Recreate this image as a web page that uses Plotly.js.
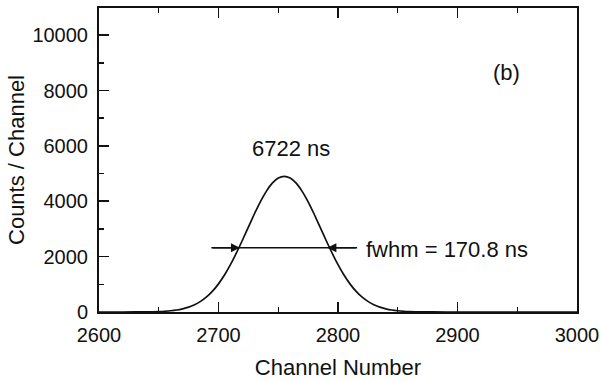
<!DOCTYPE html>
<html>
<head>
<meta charset="utf-8">
<script src="https://cdn.plot.ly/plotly-3.0.1.min.js"></script>
<style>html,body{margin:0;padding:0;background:#fff;}#chart{width:601px;height:381px;}</style>
</head>
<body>
<div id="chart"></div>
<script>
// Data
const channels = [2600, 2620, 2640, 2650, 2655, 2660, 2665, 2670, 2675, 2680, 2685, 2690, 2695, 2700, 2705, 2710, 2715, 2720, 2725, 2730, 2735, 2740, 2745, 2750, 2755, 2760, 2765, 2770, 2775, 2780, 2785, 2790, 2795, 2800, 2805, 2810, 2815, 2820, 2825, 2830, 2835, 2840, 2845, 2850, 2855, 2860, 2870, 2880, 2900, 2950, 3000];
const counts   = [0, 0, 5, 16, 27, 45, 72, 114, 175, 263, 383, 543, 752, 1016, 1335, 1709, 2132, 2591, 3068, 3540, 3980, 4357, 4652, 4837, 4900, 4837, 4652, 4357, 3980, 3540, 3068, 2591, 2132, 1709, 1335, 1016, 752, 543, 383, 263, 175, 114, 72, 45, 27, 16, 5, 1, 0, 0, 0];

const peakLabel = "6722 ns";
const peakLabelPos = [2761, 5920];
const fwhmLabel = "fwhm = 170.8 ns";
const fwhmLabelPos = [2822, 2250];
const panelLabel = "(b)";
const panelLabelPos = [2941, 8660];
const fwhmLevel = 2320;
const fwhmArrowLeft = [2694, 2718];   // tail, head
const fwhmArrowRight = [2816, 2791];  // tail, head

const xTicks = [2600, 2700, 2800, 2900, 3000];
const yTicks = [0, 2000, 4000, 6000, 8000, 10000];

const font = "Liberation Sans, Arial, Helvetica, sans-serif";
const ink = "#111";

const trace = {
  x: channels, y: counts, type: "scatter", mode: "lines",
  line: {color: ink, width: 1.7, shape: "spline", smoothing: 0.6},
  hoverinfo: "skip"
};

const layout = {
  width: 601, height: 381,
  margin: {l: 99, r: 24, t: 8, b: 69},
  paper_bgcolor: "#fff", plot_bgcolor: "#fff",
  showlegend: false,
  font: {family: font, color: ink, size: 20},
  xaxis: {
    range: [2600, 3000], tickvals: xTicks, ticktext: xTicks.map(String),
    ticks: "inside", ticklen: 10, tickwidth: 1.6, tickcolor: ink,
    minor: {dtick: 50, tick0: 2600, ticks: "inside", ticklen: 5, tickwidth: 1.4, tickcolor: ink, showgrid: false},
    showline: true, linewidth: 2, linecolor: ink, mirror: "allticks",
    showgrid: false, zeroline: false, ticklabelstandoff: 4,
    tickfont: {size: 20, family: font, color: ink},
    title: {text: "Channel Number", font: {size: 22, family: font, color: ink}, standoff: 15}
  },
  yaxis: {
    range: [0, 10980], tickvals: yTicks, ticktext: yTicks.map(String),
    ticks: "inside", ticklen: 10, tickwidth: 1.6, tickcolor: ink,
    minor: {dtick: 1000, tick0: 0, ticks: "inside", ticklen: 5, tickwidth: 1.4, tickcolor: ink, showgrid: false},
    showline: true, linewidth: 2, linecolor: ink, mirror: true,
    showgrid: false, zeroline: false, ticklabelstandoff: 5,
    tickfont: {size: 20, family: font, color: ink},
    title: {text: "Counts / Channel", font: {size: 22, family: font, color: ink}, standoff: 2}
  },
  shapes: [{
    type: "line", xref: "x", yref: "y",
    x0: fwhmArrowLeft[0], x1: fwhmArrowRight[0], y0: fwhmLevel, y1: fwhmLevel,
    line: {color: ink, width: 1.4}
  }],
  annotations: [
    {x: peakLabelPos[0], y: peakLabelPos[1], xref: "x", yref: "y", text: peakLabel, showarrow: false,
     font: {size: 22, family: font, color: ink}, xanchor: "center", yanchor: "middle"},
    {x: fwhmLabelPos[0], y: fwhmLabelPos[1], xref: "x", yref: "y", text: fwhmLabel, showarrow: false,
     font: {size: 22, family: font, color: ink}, xanchor: "left", yanchor: "middle"},
    {x: panelLabelPos[0], y: panelLabelPos[1], xref: "x", yref: "y", text: panelLabel, showarrow: false,
     font: {size: 22, family: font, color: ink}, xanchor: "center", yanchor: "middle"},
    {x: fwhmArrowLeft[1], y: fwhmLevel, ax: fwhmArrowLeft[0], ay: fwhmLevel, xref: "x", yref: "y", axref: "x", ayref: "y",
     text: "", showarrow: true, arrowhead: 2, arrowsize: 1.3, arrowwidth: 1.4, arrowcolor: ink},
    {x: fwhmArrowRight[1], y: fwhmLevel, ax: fwhmArrowRight[0], ay: fwhmLevel, xref: "x", yref: "y", axref: "x", ayref: "y",
     text: "", showarrow: true, arrowhead: 2, arrowsize: 1.3, arrowwidth: 1.4, arrowcolor: ink}
  ]
};

Plotly.newPlot("chart", [trace], layout, {staticPlot: true, displayModeBar: false});
</script>
</body>
</html>
